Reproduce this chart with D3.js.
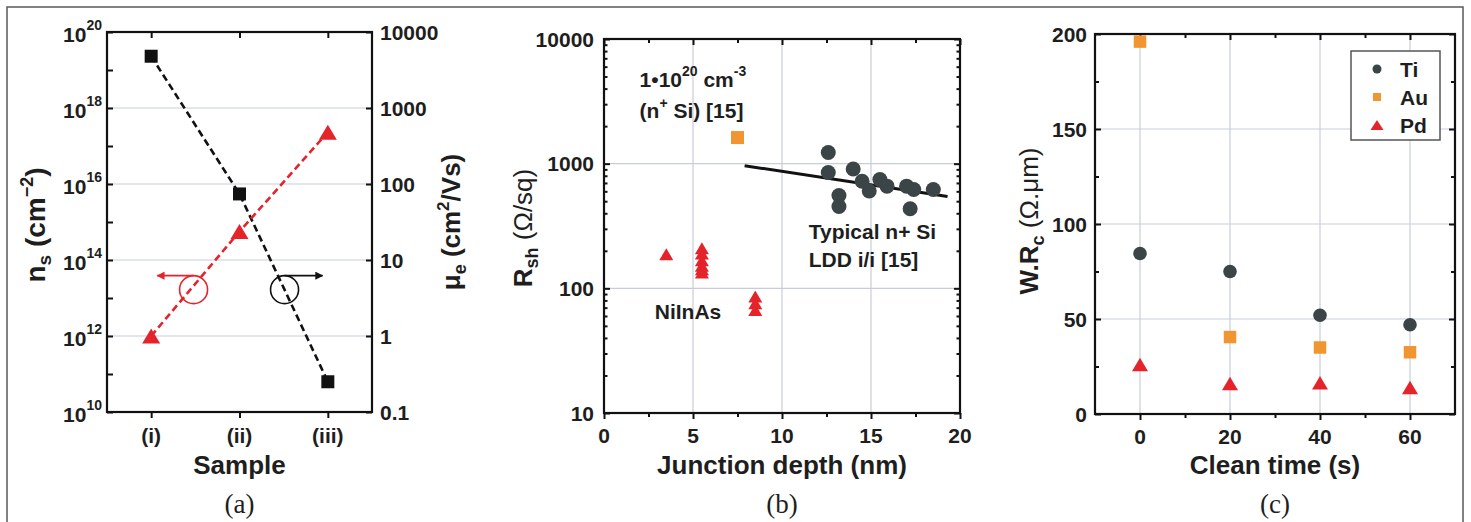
<!DOCTYPE html>
<html>
<head>
<meta charset="utf-8">
<script src="https://cdn.jsdelivr.net/npm/d3@7"></script>
<style>
  body { margin: 0; background: #fff; }
  text { font-family: Arial, "Liberation Sans", sans-serif; font-weight: bold; fill: #1e1e1e; }
  .panel-label { font-family: "Liberation Serif", "Times New Roman", serif; font-weight: normal; }
</style>
</head>
<body>
<script>
const width = 1471;
const height = 522;

// ---- panel (a) ----
const samples = ['(i)', '(ii)', '(iii)'];
const sheetDensity = [1e12, 5.6e14, 2.3e17];   // n_s, left axis
const mobility = [4800, 74, 0.25];             // mu_e, right axis
const densityTicks = [1e10, 1e12, 1e14, 1e16, 1e18, 1e20];
const densityExp = ['10', '12', '14', '16', '18', '20'];
const mobilityTicks = [0.1, 1, 10, 100, 1000, 10000];
const mobilityLabels = ['0.1', '1', '10', '100', '1000', '10000'];

// ---- panel (b) ----
const niinasDepth = [3.5, 5.5, 5.5, 5.5, 5.5, 5.5, 5.5, 8.5, 8.5, 8.5];
const niinasRsh = [188, 210, 190, 168, 152, 142, 134, 86, 76, 67];
const siDepth = [12.6, 12.6, 13.2, 13.2, 14.0, 14.5, 14.9, 15.5, 15.9, 17.0, 17.4, 17.2, 18.5];
const siRsh = [1230, 850, 555, 453, 907, 723, 603, 745, 660, 660, 620, 435, 620];
const nplusDepth = [7.5];
const nplusRsh = [1620];
const fitDepth = [7.9, 19.3];
const fitRsh = [963, 545];
const depthTicks = [0, 5, 10, 15, 20];
const rshTicks = [10, 100, 1000, 10000];

// ---- panel (c) ----
const cleanTime = [0, 20, 40, 60];
const tiRc = [84.5, 75, 52, 47];
const auRc = [196, 40.5, 35, 32.5];
const pdRc = [26, 16, 16.5, 14];
const rcTicks = [0, 50, 100, 150, 200];
const metals = ['Ti', 'Au', 'Pd'];

const red = '#e5232b';
const orange = '#f0952f';
const grey = '#3b4446';
const gridColor = '#c8cdd9';

const svg = d3.select('body').append('svg')
  .attr('width', width)
  .attr('height', height);

// outer figure border
svg.append('path')
  .attr('d', `M7,${height} V7 H1463 V${height}`)
  .attr('fill', 'none')
  .attr('stroke', '#5a5a5a')
  .attr('stroke-width', 1.5);

const tri = (w, h) => `M0,${-h / 2}L${w / 2},${h / 2}L${-w / 2},${h / 2}Z`;
const sq = s => `M${-s / 2},${-s / 2}h${s}v${s}h${-s}Z`;

function tickMarks(g, axis, tr) {
  const t = g.append('g').attr('transform', tr).call(axis);
  t.select('.domain').remove();
  t.selectAll('line').attr('stroke', '#111').attr('stroke-width', 2);
  t.selectAll('text').remove();
}

function frame(g, box) {
  g.append('rect')
    .attr('x', box.left).attr('y', box.top)
    .attr('width', box.right - box.left).attr('height', box.bottom - box.top)
    .attr('fill', 'none').attr('stroke', '#111').attr('stroke-width', 2.2);
}

function rotLabel(g, x, y, parts, size) {
  const t = g.append('text')
    .attr('transform', `translate(${x},${y}) rotate(-90)`)
    .attr('text-anchor', 'middle')
    .attr('font-size', size || 26);
  parts.forEach(p => {
    const s = t.append('tspan').text(p.t);
    if (p.size) s.attr('font-size', p.size);
    if (p.dy) s.attr('dy', p.dy);
    if (p.normal) s.attr('font-weight', 'normal');
  });
}

// ================= (a) =================
const a = { left: 107, right: 372, top: 32, bottom: 412 };
const ga = svg.append('g');
const xa = d3.scaleLinear().domain([0.5, 3.5]).range([a.left, a.right]);
const yaL = d3.scaleLog().domain([1e10, 1e20]).range([a.bottom, a.top]);
const yaR = d3.scaleLog().domain([0.1, 10000]).range([a.bottom, a.top]);

ga.selectAll('.grid').data(densityTicks.slice(1, -1)).enter().append('line')
  .attr('x1', a.left).attr('x2', a.right)
  .attr('y1', d => yaL(d)).attr('y2', d => yaL(d))
  .attr('stroke', gridColor).attr('stroke-width', 1.2);

const allDecades = d3.range(10, 21).map(e => Math.pow(10, e));
tickMarks(ga, d3.axisLeft(yaL).tickValues(allDecades).tickSize(-6), `translate(${a.left},0)`);
tickMarks(ga, d3.axisRight(yaR).tickValues(mobilityTicks).tickSize(-6), `translate(${a.right},0)`);
tickMarks(ga, d3.axisTop(xa).tickValues([1, 2, 3]).tickSize(-6), `translate(0,${a.top})`);
tickMarks(ga, d3.axisBottom(xa).tickValues([1, 2, 3]).tickSize(6), `translate(0,${a.bottom})`);
frame(ga, a);

// left tick labels 10^n
densityTicks.forEach((v, i) => {
  const t = ga.append('text')
    .attr('x', a.left - 5).attr('y', yaL(v) + 10)
    .attr('text-anchor', 'end').attr('font-size', 21);
  t.append('tspan').text('10');
  t.append('tspan').attr('font-size', 14).attr('dy', -12).text(densityExp[i]);
});
mobilityTicks.forEach((v, i) => {
  ga.append('text')
    .attr('x', a.right + 8).attr('y', yaR(v)).attr('dy', '0.36em')
    .attr('font-size', 21).text(mobilityLabels[i]);
});
samples.forEach((s, i) => {
  ga.append('text')
    .attr('x', xa(i + 1)).attr('y', a.bottom + 31)
    .attr('text-anchor', 'middle').attr('font-size', 21).text(s);
});

// data
const lineA = d3.line().x((d, i) => xa(i + 1));
ga.append('path')
  .attr('d', lineA.y(d => yaR(d))(mobility))
  .attr('fill', 'none').attr('stroke', '#111').attr('stroke-width', 2.6)
  .attr('stroke-dasharray', '7,4');
ga.append('path')
  .attr('d', lineA.y(d => yaL(d))(sheetDensity))
  .attr('fill', 'none').attr('stroke', red).attr('stroke-width', 2.6)
  .attr('stroke-dasharray', '7,4');
ga.selectAll('.mu').data(mobility).enter().append('path')
  .attr('d', sq(13))
  .attr('transform', (d, i) => `translate(${xa(i + 1)},${yaR(d)})`)
  .attr('fill', '#111');
ga.selectAll('.ns').data(sheetDensity).enter().append('path')
  .attr('d', tri(18, 15))
  .attr('transform', (d, i) => `translate(${xa(i + 1)},${yaL(d)})`)
  .attr('fill', red);

// axis pointers
const defs = svg.append('defs');
[['arrRed', red], ['arrBlack', '#111']].forEach(([id, col]) => {
  defs.append('marker').attr('id', id)
    .attr('viewBox', '0 0 10 10').attr('refX', 9).attr('refY', 5)
    .attr('markerWidth', 11).attr('markerHeight', 8)
    .attr('markerUnits', 'userSpaceOnUse').attr('orient', 'auto')
    .append('path').attr('d', 'M0,0L10,5L0,10Z').attr('fill', col);
});
const pointerY = Math.pow(10, 13.22);
const pointers = [
  { x: 1.48, tip: 1.07, color: red, marker: 'arrRed' },
  { x: 2.51, tip: 2.94, color: '#111', marker: 'arrBlack' }
];
pointers.forEach(p => {
  const cy = yaL(pointerY);
  ga.append('circle').attr('cx', xa(p.x)).attr('cy', cy).attr('r', 14)
    .attr('fill', 'none').attr('stroke', p.color).attr('stroke-width', 1.6);
  ga.append('line')
    .attr('x1', xa(p.x)).attr('x2', xa(p.tip))
    .attr('y1', cy - 14).attr('y2', cy - 14)
    .attr('stroke', p.color).attr('stroke-width', 1.6)
    .attr('marker-end', `url(#${p.marker})`);
});

rotLabel(ga, 45, 225, [
  { t: 'n' }, { t: 's', size: 19, dy: 6 }, { t: ' (cm', dy: -6 },
  { t: '\u22122', size: 18, dy: -12 }, { t: ')', dy: 12 }
], 28);
rotLabel(ga, 460, 222, [
  { t: '\u03bc' }, { t: 'e', size: 18, dy: 6 }, { t: ' (cm', dy: -6 },
  { t: '2', size: 17, dy: -11 }, { t: '/Vs)', dy: 11 }
]);
ga.append('text').attr('x', xa(2)).attr('y', 474)
  .attr('text-anchor', 'middle').attr('font-size', 26).text('Sample');
ga.append('text').attr('class', 'panel-label').attr('x', xa(2)).attr('y', 513)
  .attr('text-anchor', 'middle').attr('font-size', 27).text('(a)');

// ================= (b) =================
const b = { left: 604, right: 960, top: 39, bottom: 413 };
const gb = svg.append('g');
const xb = d3.scaleLinear().domain([0, 20]).range([b.left, b.right]);
const yb = d3.scaleLog().domain([10, 10000]).range([b.bottom, b.top]);

gb.selectAll('.gx').data([5, 10, 15]).enter().append('line')
  .attr('x1', d => xb(d)).attr('x2', d => xb(d))
  .attr('y1', b.top).attr('y2', b.bottom)
  .attr('stroke', gridColor).attr('stroke-width', 1.2);
gb.selectAll('.gy').data([100, 1000]).enter().append('line')
  .attr('x1', b.left).attr('x2', b.right)
  .attr('y1', d => yb(d)).attr('y2', d => yb(d))
  .attr('stroke', gridColor).attr('stroke-width', 1.2);

const minorLog = [];
[10, 100, 1000].forEach(dec => d3.range(2, 10).forEach(k => minorLog.push(dec * k)));
const depthMinor = [2.5, 7.5, 12.5, 17.5];
tickMarks(gb, d3.axisBottom(xb).tickValues(depthTicks).tickSize(6), `translate(0,${b.bottom})`);
tickMarks(gb, d3.axisBottom(xb).tickValues(depthMinor).tickSize(4), `translate(0,${b.bottom})`);
tickMarks(gb, d3.axisTop(xb).tickValues(depthTicks).tickSize(-6), `translate(0,${b.top})`);
tickMarks(gb, d3.axisTop(xb).tickValues(depthMinor).tickSize(-4), `translate(0,${b.top})`);
tickMarks(gb, d3.axisLeft(yb).tickValues(rshTicks).tickSize(-6), `translate(${b.left},0)`);
tickMarks(gb, d3.axisLeft(yb).tickValues(minorLog).tickSize(-3.5), `translate(${b.left},0)`);
tickMarks(gb, d3.axisRight(yb).tickValues(rshTicks).tickSize(-6), `translate(${b.right},0)`);
tickMarks(gb, d3.axisRight(yb).tickValues(minorLog).tickSize(-3.5), `translate(${b.right},0)`);
frame(gb, b);

rshTicks.forEach(v => {
  gb.append('text').attr('x', b.left - 10).attr('y', yb(v)).attr('dy', '0.36em')
    .attr('text-anchor', 'end').attr('font-size', 21).text(v);
});
depthTicks.forEach(v => {
  gb.append('text').attr('x', xb(v)).attr('y', b.bottom + 30)
    .attr('text-anchor', 'middle').attr('font-size', 21).text(v);
});

gb.append('path')
  .attr('d', d3.line().x(d => xb(d[0])).y(d => yb(d[1]))(d3.zip(fitDepth, fitRsh)))
  .attr('stroke', '#111').attr('stroke-width', 3).attr('fill', 'none');
gb.selectAll('.si').data(d3.zip(siDepth, siRsh)).enter().append('circle')
  .attr('cx', d => xb(d[0])).attr('cy', d => yb(d[1])).attr('r', 7.5)
  .attr('fill', grey);
gb.selectAll('.np').data(d3.zip(nplusDepth, nplusRsh)).enter().append('path')
  .attr('d', sq(13))
  .attr('transform', d => `translate(${xb(d[0])},${yb(d[1])})`)
  .attr('fill', orange);
gb.selectAll('.ni').data(d3.zip(niinasDepth, niinasRsh)).enter().append('path')
  .attr('d', tri(14, 12))
  .attr('transform', d => `translate(${xb(d[0])},${yb(d[1])})`)
  .attr('fill', red);

// annotations
const n1 = gb.append('text').attr('x', xb(2.0)).attr('y', 87).attr('font-size', 21);
n1.append('tspan').text('1\u202210');
n1.append('tspan').attr('font-size', 14).attr('dy', -11).text('20');
n1.append('tspan').attr('dy', 11).text(' cm');
n1.append('tspan').attr('font-size', 14).attr('dy', -11).text('-3');
const n2 = gb.append('text').attr('x', xb(2.0)).attr('y', 118).attr('font-size', 21);
n2.append('tspan').text('(n');
n2.append('tspan').attr('font-size', 14).attr('dy', -10).text('+');
n2.append('tspan').attr('dy', 10).text(' Si) [15]');
gb.append('text').attr('x', xb(11.5)).attr('y', 239).attr('font-size', 21).text('Typical n+ Si');
gb.append('text').attr('x', xb(11.5)).attr('y', 267).attr('font-size', 21).text('LDD i/i [15]');
gb.append('text').attr('x', xb(2.85)).attr('y', 319).attr('font-size', 21).text('NiInAs');

rotLabel(gb, 532, 228, [
  { t: 'R' }, { t: 'sh', size: 18, dy: 6 }, { t: ' (\u03a9/sq)', dy: -6, normal: true }
]);
gb.append('text').attr('x', xb(10)).attr('y', 474)
  .attr('text-anchor', 'middle').attr('font-size', 26).text('Junction depth (nm)');
gb.append('text').attr('class', 'panel-label').attr('x', xb(10)).attr('y', 513)
  .attr('text-anchor', 'middle').attr('font-size', 27).text('(b)');

// ================= (c) =================
const c = { left: 1095, right: 1455, top: 34, bottom: 414 };
const gc = svg.append('g');
const xc = d3.scaleLinear().domain([-10, 70]).range([c.left, c.right]);
const yc = d3.scaleLinear().domain([0, 200]).range([c.bottom, c.top]);

gc.selectAll('.gx').data(cleanTime).enter().append('line')
  .attr('x1', d => xc(d)).attr('x2', d => xc(d))
  .attr('y1', c.top).attr('y2', c.bottom)
  .attr('stroke', gridColor).attr('stroke-width', 1.2);
gc.selectAll('.gy').data([50, 100, 150]).enter().append('line')
  .attr('x1', c.left).attr('x2', c.right)
  .attr('y1', d => yc(d)).attr('y2', d => yc(d))
  .attr('stroke', gridColor).attr('stroke-width', 1.2);

const timeMinor = [10, 30, 50];
const rcMinor = [25, 75, 125, 175];
tickMarks(gc, d3.axisBottom(xc).tickValues(cleanTime).tickSize(6), `translate(0,${c.bottom})`);
tickMarks(gc, d3.axisBottom(xc).tickValues(timeMinor).tickSize(4), `translate(0,${c.bottom})`);
tickMarks(gc, d3.axisTop(xc).tickValues(cleanTime).tickSize(-6), `translate(0,${c.top})`);
tickMarks(gc, d3.axisTop(xc).tickValues(timeMinor).tickSize(-4), `translate(0,${c.top})`);
tickMarks(gc, d3.axisLeft(yc).tickValues(rcTicks).tickSize(-6), `translate(${c.left},0)`);
tickMarks(gc, d3.axisLeft(yc).tickValues(rcMinor).tickSize(-4), `translate(${c.left},0)`);
tickMarks(gc, d3.axisRight(yc).tickValues(rcTicks).tickSize(-6), `translate(${c.right},0)`);
tickMarks(gc, d3.axisRight(yc).tickValues(rcMinor).tickSize(-4), `translate(${c.right},0)`);
frame(gc, c);

rcTicks.forEach(v => {
  gc.append('text').attr('x', c.left - 8).attr('y', yc(v)).attr('dy', '0.36em')
    .attr('text-anchor', 'end').attr('font-size', 21).text(v);
});
cleanTime.forEach(v => {
  gc.append('text').attr('x', xc(v)).attr('y', c.bottom + 30)
    .attr('text-anchor', 'middle').attr('font-size', 21).text(v);
});

gc.selectAll('.ti').data(tiRc).enter().append('circle')
  .attr('cx', (d, i) => xc(cleanTime[i])).attr('cy', d => yc(d)).attr('r', 6.8)
  .attr('fill', grey);
gc.selectAll('.au').data(auRc).enter().append('path')
  .attr('d', sq(12.5))
  .attr('transform', (d, i) => `translate(${xc(cleanTime[i])},${yc(d)})`)
  .attr('fill', orange);
gc.selectAll('.pd').data(pdRc).enter().append('path')
  .attr('d', tri(16, 13.5))
  .attr('transform', (d, i) => `translate(${xc(cleanTime[i])},${yc(d)})`)
  .attr('fill', red);

// legend
const lg = gc.append('g').attr('transform', 'translate(1351,51)');
lg.append('rect').attr('width', 89).attr('height', 89)
  .attr('fill', '#fff').attr('stroke', '#555').attr('stroke-width', 1.5);
const legendSym = [
  g => g.append('circle').attr('r', 4.5).attr('fill', grey),
  g => g.append('path').attr('d', sq(8)).attr('fill', orange),
  g => g.append('path').attr('d', tri(13, 10)).attr('fill', red)
];
metals.forEach((m, i) => {
  const row = lg.append('g').attr('transform', `translate(0,${18 + i * 28})`);
  legendSym[i](row.append('g').attr('transform', 'translate(26,0)'));
  row.append('text').attr('x', 49).attr('dy', '0.36em').attr('font-size', 21).text(m);
});

rotLabel(gc, 1038, 221, [
  { t: 'W.R' }, { t: 'c', size: 18, dy: 6 }, { t: ' (\u03a9.\u03bcm)', dy: -6, normal: true }
]);
gc.append('text').attr('x', xc(30)).attr('y', 474)
  .attr('text-anchor', 'middle').attr('font-size', 26).text('Clean time (s)');
gc.append('text').attr('class', 'panel-label').attr('x', xc(30)).attr('y', 513)
  .attr('text-anchor', 'middle').attr('font-size', 27).text('(c)');
</script>
</body>
</html>
